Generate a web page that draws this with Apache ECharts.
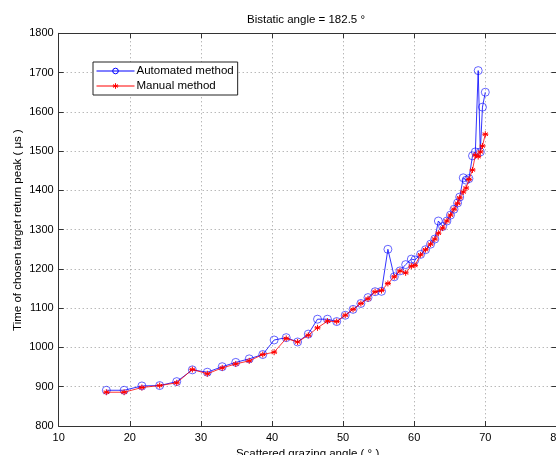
<!DOCTYPE html>
<html>
<head>
<meta charset="utf-8">
<script src="https://cdn.jsdelivr.net/npm/echarts@6/dist/echarts.min.js"></script>
<style>html,body{margin:0;padding:0;background:#fff;}#c{width:556px;height:455px;}</style>
</head>
<body>
<div id="c"></div>
<script>
var angles = [16.7, 19.2, 21.7, 24.2, 26.6, 28.8, 30.9, 33.0, 34.9, 36.8, 38.7, 40.3, 42.0, 43.6, 45.1, 46.4, 47.8, 49.1, 50.3, 51.4, 52.5, 53.5, 54.5, 55.4, 56.3, 57.2, 58.0, 58.8, 59.6, 60.1, 60.9, 61.6, 62.3, 62.9, 63.4, 64.0, 64.6, 65.1, 65.6, 66.1, 66.4, 66.9, 67.3, 67.7, 68.2, 68.6, 69.0, 69.3, 69.6, 70.0];
var automated = [891, 891, 902, 903, 913, 943, 937, 951, 962, 971, 982, 1019, 1025, 1014, 1034, 1072, 1072, 1066, 1082, 1097, 1112, 1127, 1142, 1143, 1250, 1180, 1195, 1211, 1225, 1223, 1237, 1249, 1263, 1276, 1322, 1308, 1322, 1337, 1352, 1368, 1383, 1432, 1426, 1430, 1488, 1498, 1705, 1498, 1612, 1650];
var manual = [886, 886, 898, 903, 910, 944, 933, 948, 958, 966, 982, 988, 1023, 1014, 1031, 1050, 1067, 1066, 1082, 1097, 1112, 1124, 1142, 1145, 1163, 1180, 1195, 1190, 1207, 1209, 1236, 1249, 1263, 1276, 1291, 1304, 1322, 1337, 1352, 1367, 1381, 1396, 1406, 1428, 1452, 1490, 1486, 1498, 1513, 1543];
var xTicks = [10, 20, 30, 40, 50, 60, 70, 80];
var yTicks = [800, 900, 1000, 1100, 1200, 1300, 1400, 1500, 1600, 1700, 1800];
var seriesNames = ['Automated method', 'Manual method'];
var titleText = 'Bistatic angle = 182.5 \u00b0';
var xName = 'Scattered grazing angle ( \u00b0 )';
var yName = 'Time of chosen target return peak ( \u03bcs )';

function pairs(xs, ys) { return xs.map(function (x, i) { return [x, ys[i]]; }); }

var FONT = 'Liberation Sans, Arial, sans-serif';
var AX = '#333';
var gridLine = { show: true, lineStyle: { color: '#9a9a9a', type: [1, 3], width: 1 } };
var starPath = 'path://M0,-10L0,10M-8.66,-5L8.66,5M-8.66,5L8.66,-5M-10,0L10,0';

var chart = echarts.init(document.getElementById('c'), null, { renderer: 'canvas' });
chart.setOption({
  animation: false,
  backgroundColor: '#fff',
  textStyle: { fontFamily: FONT },
  title: {
    text: titleText, left: 301, top: 9, textAlign: 'center',
    textStyle: { fontFamily: FONT, fontSize: 11.5, fontWeight: 'normal', color: '#000' }
  },
  graphic: [{
    type: 'text', x: 18, y: 230, rotation: Math.PI / 2,
    style: { text: yName, fontFamily: FONT, fontSize: 11.5, fill: '#000', textAlign: 'center', textVerticalAlign: 'middle' }
  }],
  legend: {
    orient: 'vertical', left: 93, top: 62,
    padding: [3, 4, 3, 3], itemGap: 3, itemWidth: 38, itemHeight: 7,
    borderColor: '#222', borderWidth: 1, backgroundColor: '#fff', borderRadius: 0,
    lineStyle: { width: 1 },
    data: [
      { name: seriesNames[0], itemStyle: { color: 'transparent', borderColor: '#0000ff', borderWidth: 1 } },
      { name: seriesNames[1], itemStyle: { color: 'none', borderColor: '#ff0000', borderWidth: 1 } }
    ],
    textStyle: { fontFamily: FONT, fontSize: 11.5, color: '#000', padding: [0, 0, 0, -3] }
  },
  grid: { left: 58.7, right: -0.4, top: 33.3, bottom: 29, containLabel: false, outerBoundsMode: 'none' },
  xAxis: [{
    type: 'value', min: 10, max: 80, interval: 10, position: 'bottom',
    name: xName, nameLocation: 'middle', nameGap: 22, nameMoveOverlap: false,
    nameTextStyle: { fontFamily: FONT, fontSize: 11.5, color: '#000', verticalAlign: 'top' },
    axisLine: { show: true, onZero: false, lineStyle: { color: AX, width: 1 } },
    axisTick: { show: true, inside: true, length: 5, lineStyle: { color: AX } },
    axisLabel: { fontFamily: FONT, fontSize: 11, color: '#000', margin: 6, hideOverlap: false },
    splitLine: gridLine
  }, {
    type: 'value', min: 10, max: 80, interval: 10, position: 'top',
    axisLine: { show: true, onZero: false, lineStyle: { color: AX, width: 1 } },
    axisTick: { show: true, inside: true, length: 5, lineStyle: { color: AX } },
    axisLabel: { show: false }, splitLine: { show: false }
  }],
  yAxis: [{
    type: 'value', min: 800, max: 1800, interval: 100, position: 'left',
    axisLine: { show: true, onZero: false, lineStyle: { color: AX, width: 1 } },
    axisTick: { show: true, inside: true, length: 5, lineStyle: { color: AX } },
    axisLabel: { fontFamily: FONT, fontSize: 11, color: '#000', margin: 5, formatter: function (v) { return String(v); } },
    splitLine: gridLine
  }, {
    type: 'value', min: 800, max: 1800, interval: 100, position: 'right',
    axisLine: { show: true, onZero: false, lineStyle: { color: AX, width: 1 } },
    axisTick: { show: true, inside: true, length: 5, lineStyle: { color: AX } },
    axisLabel: { show: false }, splitLine: { show: false }
  }],
  series: [{
    name: seriesNames[0], type: 'line', xAxisIndex: 0, yAxisIndex: 0,
    data: pairs(angles, automated),
    symbol: 'circle', symbolSize: 8, showAllSymbol: true,
    lineStyle: { color: '#0000ff', width: 0.8 },
    itemStyle: { color: 'transparent', borderColor: 'rgba(0,0,255,0.75)', borderWidth: 0.8 },
    emphasis: { disabled: true },
    z: 2
  }, {
    name: seriesNames[1], type: 'line', xAxisIndex: 0, yAxisIndex: 0,
    data: pairs(angles, manual),
    symbol: starPath, symbolSize: 6, showAllSymbol: true,
    lineStyle: { color: '#ff0000', width: 0.8 },
    itemStyle: { color: 'none', borderColor: '#ff0000', borderWidth: 1 },
    emphasis: { disabled: true },
    z: 3
  }]
});
</script>
</body>
</html>
